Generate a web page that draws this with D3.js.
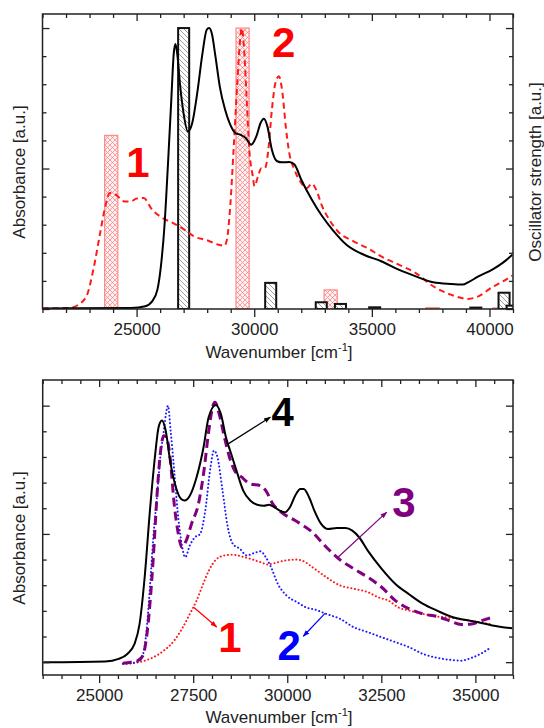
<!DOCTYPE html>
<html><head><meta charset="utf-8">
<script src="https://cdn.jsdelivr.net/npm/d3@7/dist/d3.min.js"></script>
<style>
body{margin:0;background:#fff}
svg{display:block}
text{font-family:"Liberation Sans",Arial,Helvetica,sans-serif}
</style>
</head><body>
<svg id="c" width="544" height="728"></svg>
<script>
// ---------------- DATA ----------------
const topXTicks = [25000, 30000, 35000, 40000];
const botXTicks = [25000, 27500, 30000, 32500, 35000];
const yTicks = [0, 0.1, 0.2, 0.3, 0.4, 0.5, 0.6, 0.7, 0.8, 0.9, 1.0];
const yMajorTicks = [0, 0.5, 1.0];

// Top panel: experimental absorbance (black solid)
const topExp = [[21000,0.002],[24780,0.004],[25370,0.01],[25660,0.027],[25885,0.069],[26030,0.15],[26180,0.29],[26330,0.51],[26475,0.745],[26580,0.91],[26650,0.943],[26725,0.91],[26845,0.80],[26990,0.70],[27180,0.632],[27360,0.66],[27580,0.77],[27800,0.91],[27980,0.994],[28080,1.0],[28200,0.98],[28350,0.90],[28540,0.79],[28760,0.71],[28980,0.656],[29200,0.626],[29425,0.62],[29650,0.608],[29870,0.585],[30090,0.614],[30270,0.662],[30410,0.677],[30560,0.65],[30750,0.567],[30975,0.526],[31200,0.522],[31490,0.523],[31710,0.514],[32000,0.46],[32450,0.389],[32890,0.33],[33330,0.282],[33920,0.229],[34660,0.193],[35400,0.17],[36140,0.14],[36870,0.116],[37610,0.095],[38350,0.089],[38870,0.087],[39090,0.095],[39530,0.116],[40120,0.14],[40560,0.164],[40970,0.193]];
// Top panel: second spectrum (red dashed)
const topRed = [[21000,0.002],[22150,0.004],[22520,0.015],[22890,0.05],[23160,0.14],[23450,0.27],[23670,0.365],[23860,0.413],[24115,0.407],[24480,0.383],[24750,0.383],[25000,0.393],[25300,0.395],[25660,0.353],[26100,0.324],[26550,0.306],[27140,0.276],[27430,0.259],[28020,0.244],[28470,0.229],[28730,0.225],[28840,0.247],[28980,0.365],[29130,0.579],[29280,0.804],[29400,0.958],[29470,1.0],[29570,0.923],[29680,0.745],[29790,0.567],[29940,0.472],[30010,0.437],[30160,0.472],[30310,0.502],[30460,0.502],[30600,0.567],[30750,0.709],[30900,0.804],[31050,0.828],[31200,0.769],[31340,0.65],[31490,0.555],[31710,0.496],[32000,0.448],[32230,0.43],[32450,0.446],[32630,0.425],[32890,0.365],[33190,0.318],[33560,0.276],[34220,0.241],[34810,0.217],[35400,0.187],[36140,0.158],[36870,0.128],[37610,0.081],[38350,0.051],[39090,0.036],[39530,0.045],[40120,0.078],[40560,0.098],[40970,0.119]];
// Top panel: calculated oscillator strengths
const blackBarPos = [27000, 30700, 32850, 33665, 35120, 39420, 40620, 40960];
const blackBarVal = [1.0, 0.093, 0.024, 0.018, 0.006, 0.005, 0.058, 0.012];
const redBarPos = [23920, 29505, 33250, 37580, 40420];
const redBarVal = [0.618, 1.0, 0.068, 0.005, 0.004];

// Bottom panel spectra
const bot4 = [[23520,0],[25160,0.003],[25520,0.013],[25750,0.032],[25940,0.071],[26075,0.149],[26210,0.331],[26350,0.591],[26490,0.81],[26580,0.916],[26670,0.942],[26760,0.909],[26900,0.773],[27040,0.682],[27180,0.636],[27270,0.63],[27410,0.649],[27590,0.721],[27775,0.838],[27910,0.955],[28100,1.003],[28235,0.968],[28370,0.877],[28510,0.812],[28650,0.747],[28830,0.669],[29015,0.63],[29200,0.614],[29380,0.61],[29520,0.614],[29660,0.604],[29800,0.591],[29935,0.584],[30070,0.604],[30210,0.649],[30350,0.675],[30440,0.675],[30580,0.643],[30720,0.591],[30900,0.539],[31085,0.519],[31315,0.523],[31545,0.523],[31730,0.513],[31910,0.487],[32140,0.435],[32510,0.364],[32875,0.305],[33245,0.264],[33610,0.227],[33980,0.201],[34345,0.178],[34715,0.165],[35080,0.156],[35450,0.143],[35980,0.132]];
const bot3 = [[25630,-0.004],[25845,0],[26030,0.006],[26165,0.026],[26260,0.097],[26350,0.227],[26440,0.409],[26535,0.643],[26625,0.812],[26720,0.883],[26790,0.877],[26885,0.799],[26995,0.617],[27105,0.5],[27200,0.448],[27315,0.474],[27455,0.539],[27640,0.617],[27775,0.734],[27915,0.903],[28025,1.0],[28080,1.013],[28190,0.968],[28330,0.877],[28465,0.799],[28600,0.747],[28790,0.721],[29015,0.695],[29290,0.688],[29430,0.669],[29615,0.617],[29845,0.584],[30210,0.552],[30670,0.506],[31040,0.448],[31405,0.399],[31770,0.364],[32140,0.331],[32510,0.292],[32875,0.24],[33245,0.208],[33610,0.188],[33980,0.178],[34345,0.16],[34620,0.147],[34900,0.149],[35170,0.162],[35450,0.175]];
const bot2 = [[25630,-0.006],[25890,-0.003],[26075,0.006],[26170,0.032],[26260,0.123],[26350,0.292],[26440,0.487],[26535,0.643],[26625,0.799],[26720,0.903],[26790,0.981],[26830,1.0],[26900,0.903],[26995,0.747],[27085,0.591],[27180,0.474],[27290,0.409],[27410,0.455],[27545,0.487],[27685,0.5],[27820,0.591],[27960,0.76],[28050,0.825],[28145,0.799],[28280,0.669],[28420,0.526],[28555,0.461],[28740,0.442],[28925,0.416],[29110,0.425],[29290,0.432],[29430,0.409],[29570,0.37],[29750,0.305],[29980,0.26],[30260,0.234],[30490,0.214],[30760,0.204],[31040,0.188],[31405,0.169],[31770,0.136],[32140,0.117],[32510,0.097],[32875,0.078],[33245,0.058],[33610,0.032],[33980,0.017],[34345,0.009],[34620,0.006],[34900,0.017],[35170,0.035],[35400,0.056]];
const bot1 = [[25630,-0.006],[25890,-0.004],[26170,0.004],[26440,0.019],[26720,0.045],[26995,0.084],[27225,0.136],[27410,0.188],[27590,0.24],[27730,0.292],[27915,0.357],[28100,0.399],[28330,0.416],[28540,0.419],[28790,0.412],[29015,0.403],[29290,0.39],[29475,0.381],[29660,0.386],[29935,0.396],[30210,0.4],[30395,0.396],[30670,0.37],[31040,0.331],[31405,0.299],[31770,0.286],[32140,0.273],[32415,0.253],[32690,0.24],[32970,0.212],[33245,0.201],[33610,0.188],[33980,0.178],[34345,0.173],[34715,0.165],[35080,0.156],[35450,0.147]];

// ---------------- DRAWING ----------------
const svg = d3.select('#c');
const FONT = '"Liberation Sans",Arial,Helvetica,sans-serif';
const defs = svg.append('defs');

const pk = defs.append('pattern').attr('id','hatchK').attr('patternUnits','userSpaceOnUse').attr('width',5).attr('height',5);
pk.append('rect').attr('width',5).attr('height',5).attr('fill','#fff');
pk.append('path').attr('d','M0,0L5,5M-1,4L1,6M4,-1L6,1').attr('stroke','#777').attr('stroke-width',0.7);

const pr = defs.append('pattern').attr('id','hatchR').attr('patternUnits','userSpaceOnUse').attr('width',5).attr('height',5);
pr.append('rect').attr('width',5).attr('height',5).attr('fill','#fff2f2');
pr.append('path').attr('d','M0,0L5,5M-1,4L1,6M4,-1L6,1M0,5L5,0M-1,1L1,-1M4,6L6,4').attr('stroke','#ff7a7a').attr('stroke-width',0.7);

function arrowMarker(id, color){
  defs.append('marker').attr('id',id).attr('viewBox','0 0 10 10').attr('refX',9).attr('refY',5)
    .attr('markerWidth',7).attr('markerHeight',7).attr('markerUnits','userSpaceOnUse').attr('orient','auto')
    .append('path').attr('d','M0,1.5L10,5L0,8.5Z').attr('fill',color);
}
arrowMarker('arK','#000'); arrowMarker('arP','#800080'); arrowMarker('arR','#ff0000'); arrowMarker('arB','#0000ff');

function panel(o){
  const x = d3.scaleLinear().domain(o.xDom).range([o.L, o.R]);
  const y = d3.scaleLinear().domain(o.yDom).range([o.B, o.T]);
  const cid = 'clip' + o.id;
  defs.append('clipPath').attr('id', cid).append('rect')
    .attr('x', o.L).attr('y', o.T).attr('width', o.R - o.L).attr('height', o.B - o.T);
  const plot = svg.append('g').attr('clip-path', `url(#${cid})`);
  return {x, y, plot};
}

function styleAxis(g){
  g.select('.domain').remove();
  g.selectAll('line').attr('stroke','#222').attr('stroke-width',1.3);
  g.selectAll('text').attr('font-family',FONT).attr('font-size',17).attr('fill','#222');
}

function frameAndAxes(p, o){
  const {x, y} = p;
  const minor = d3.range(o.xDom[0], o.xDom[1] + 1, o.xMinorStep).filter(v => !o.xTicks.includes(v));
  const yMinor = yTicks.filter(v => !yMajorTicks.includes(v));
  // bottom (outward)
  svg.append('g').attr('transform',`translate(0,${o.B})`)
    .call(d3.axisBottom(x).tickValues(o.xTicks).tickSize(8).tickPadding(6).tickFormat(d3.format('d'))).call(styleAxis);
  svg.append('g').attr('transform',`translate(0,${o.B})`)
    .call(d3.axisBottom(x).tickValues(minor).tickSize(4).tickFormat('')).call(styleAxis);
  // top (inward)
  svg.append('g').attr('transform',`translate(0,${o.T})`)
    .call(d3.axisTop(x).tickValues(o.xTicks).tickSize(-7).tickFormat('')).call(styleAxis);
  svg.append('g').attr('transform',`translate(0,${o.T})`)
    .call(d3.axisTop(x).tickValues(minor).tickSize(-4).tickFormat('')).call(styleAxis);
  // left & right (inward)
  svg.append('g').attr('transform',`translate(${o.L},0)`)
    .call(d3.axisLeft(y).tickValues(yMajorTicks).tickSize(-7).tickFormat('')).call(styleAxis);
  svg.append('g').attr('transform',`translate(${o.L},0)`)
    .call(d3.axisLeft(y).tickValues(yMinor).tickSize(-4).tickFormat('')).call(styleAxis);
  svg.append('g').attr('transform',`translate(${o.R},0)`)
    .call(d3.axisRight(y).tickValues(yMajorTicks).tickSize(-7).tickFormat('')).call(styleAxis);
  svg.append('g').attr('transform',`translate(${o.R},0)`)
    .call(d3.axisRight(y).tickValues(yMinor).tickSize(-4).tickFormat('')).call(styleAxis);
  svg.append('rect').attr('x',o.L).attr('y',o.T).attr('width',o.R-o.L).attr('height',o.B-o.T)
    .attr('fill','none').attr('stroke','#222').attr('stroke-width',1.5);
  // x title
  const t = svg.append('text').attr('x', o.xTitleX).attr('y', o.xTitleY).attr('text-anchor','middle')
    .attr('font-size',17).attr('fill','#222').attr('font-family',FONT);
  t.append('tspan').text('Wavenumber [cm');
  t.append('tspan').attr('font-size',11).attr('dy',-7).text('-1');
  t.append('tspan').attr('dy',7).text(']');
  svg.append('text').attr('transform',`translate(${o.yTitleX},${o.yTitleY}) rotate(-90)`)
    .attr('text-anchor','middle').attr('font-size',17).attr('fill','#222').attr('font-family',FONT)
    .text('Absorbance [a.u.]');
}

function drawLine(p, data, style){
  p.plot.append('path').datum(data)
    .attr('d', d3.line().x(d => p.x(d[0])).y(d => p.y(d[1])).curve(d3.curveMonotoneX))
    .attr('fill','none').attr('stroke', style.color).attr('stroke-width', style.w)
    .attr('stroke-dasharray', style.dash || null).attr('stroke-linecap', style.cap || 'butt')
    .attr('stroke-linejoin','round');
}

function label(p, txt, v, a, color, size){
  svg.append('text').attr('x', p.x(v)).attr('y', p.y(a)).attr('text-anchor','middle')
    .attr('font-family',FONT).attr('font-weight','bold').attr('font-size', size).attr('fill', color).text(txt);
}
function arrow(p, v1, a1, v2, a2, color, mk){
  svg.append('line').attr('x1',p.x(v1)).attr('y1',p.y(a1)).attr('x2',p.x(v2)).attr('y2',p.y(a2))
    .attr('stroke',color).attr('stroke-width',1.2).attr('marker-end',`url(#${mk})`);
}

// ===== TOP PANEL =====
const oT = {id:'T', L:42.5, R:513, T:14, B:309, xDom:[21000,41000], yDom:[0,1.05], xTicks:topXTicks, xMinorStep:1000,
  xTitleX:279, xTitleY:358, yTitleX:25, yTitleY:172};
const pT = panel(oT);
const yOsc = d3.scaleLinear().domain([0,1.05]).range([oT.B, oT.T]);

const wR = 560, wK = 470;
pT.plot.selectAll('rect.rb').data(redBarPos.map((c,i)=>[c, redBarVal[i]])).join('rect').attr('class','rb')
  .attr('x', d => pT.x(d[0]-wR/2)).attr('width', d => pT.x(d[0]+wR/2)-pT.x(d[0]-wR/2))
  .attr('y', d => yOsc(d[1])).attr('height', d => yOsc(0)-yOsc(d[1]))
  .attr('fill','url(#hatchR)').attr('stroke','#ff8a8a').attr('stroke-width',1.2);
pT.plot.selectAll('rect.kb').data(blackBarPos.map((c,i)=>[c, blackBarVal[i]])).join('rect').attr('class','kb')
  .attr('x', d => pT.x(d[0]-wK/2)).attr('width', d => pT.x(d[0]+wK/2)-pT.x(d[0]-wK/2))
  .attr('y', d => yOsc(d[1])).attr('height', d => yOsc(0)-yOsc(d[1]))
  .attr('fill','url(#hatchK)').attr('stroke','#111').attr('stroke-width',2);

drawLine(pT, topRed, {color:'#ff1a1a', w:2, dash:'6,4'});
drawLine(pT, topExp, {color:'#000', w:2});
frameAndAxes(pT, oT);
svg.append('text').attr('transform',`translate(541,172) rotate(-90)`)
  .attr('text-anchor','middle').attr('font-size',17).attr('fill','#222').attr('font-family',FONT)
  .text('Oscillator strength [a.u.]');
label(pT, '1', 25060, 0.47, '#ff0000', 42);
label(pT, '2', 31250, 0.897, '#ff0000', 42);

// ===== BOTTOM PANEL =====
const oB = {id:'B', L:42.7, R:513, T:380, B:675, xDom:[23500,36000], yDom:[-0.05,1.1], xTicks:botXTicks, xMinorStep:500,
  xTitleX:279, xTitleY:723, yTitleX:25, yTitleY:538};
const pB = panel(oB);
drawLine(pB, bot1, {color:'#ff1a1a', w:2, dash:'0.1,3.6', cap:'round'});
drawLine(pB, bot2, {color:'#1a1aff', w:2, dash:'0.1,3.6', cap:'round'});
drawLine(pB, bot3, {color:'#800080', w:3, dash:'9,5'});
drawLine(pB, bot4, {color:'#000', w:2});
frameAndAxes(pB, oB);

arrow(pB, 28430, 0.851, 29550, 0.955, '#000', 'arK');
arrow(pB, 31357, 0.41, 32643, 0.585, '#800080', 'arP');
arrow(pB, 27521, 0.213, 28125, 0.137, '#ff0000', 'arR');
arrow(pB, 31003, 0.19, 30427, 0.101, '#0000ff', 'arB');
label(pB, '4', 29874, 0.922, '#000', 40);
label(pB, '3', 33103, 0.564, '#800080', 42);
label(pB, '1', 28478, 0.039, '#ff0000', 42);
label(pB, '2', 30050, 0.008, '#0000ff', 42);
</script>
</body></html>
